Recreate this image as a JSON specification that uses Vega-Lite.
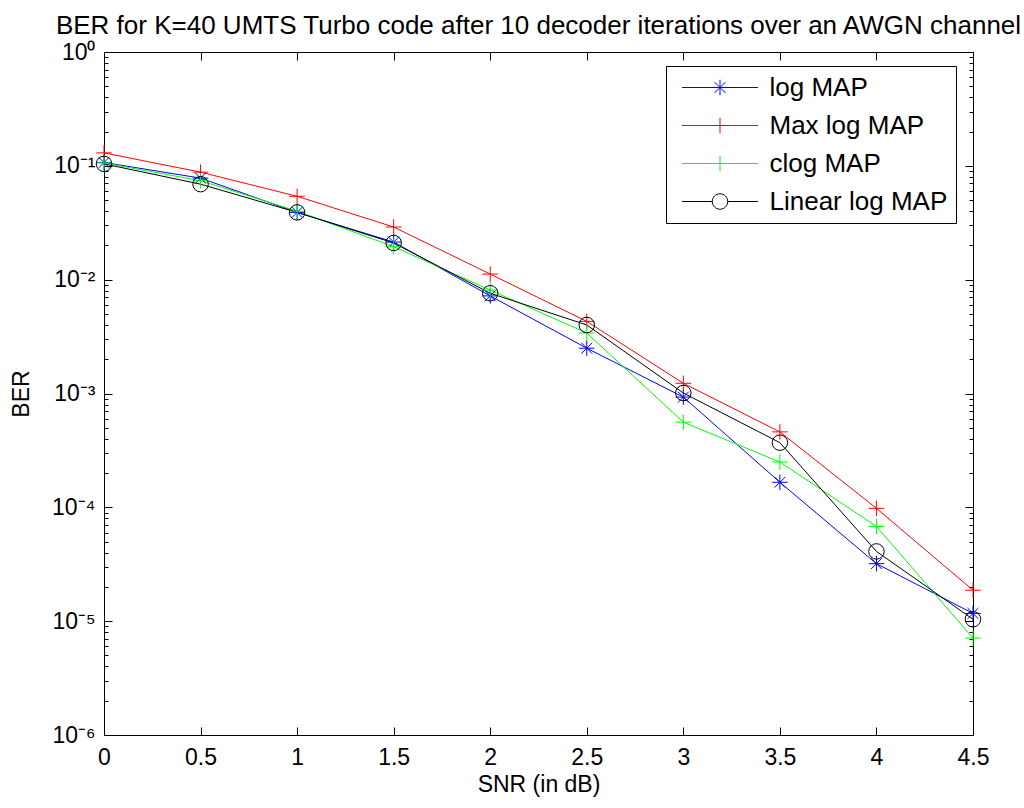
{
  "$schema": "https://vega.github.io/schema/vega-lite/v6.json",
  "width": 869,
  "height": 683,
  "autosize": {"type": "none"},
  "padding": {"left": 104, "top": 52, "right": 51, "bottom": 73},
  "background": "white",
  "config": {
    "view": {"stroke": "black", "strokeWidth": 1},
    "font": "Liberation Sans",
    "axis": {
      "grid": false,
      "domainColor": "black",
      "tickColor": "black",
      "labelColor": "black",
      "titleColor": "black",
      "labelFont": "Liberation Sans",
      "titleFont": "Liberation Sans",
      "labelFontSize": 23,
      "titleFontSize": 23,
      "titleFontWeight": "normal",
      "tickWidth": 1,
      "domainWidth": 1
    }
  },
  "title": {
    "text": "BER for K=40 UMTS Turbo code after 10 decoder iterations over an AWGN channel",
    "fontSize": 26,
    "fontWeight": "normal",
    "font": "Liberation Sans",
    "anchor": "middle",
    "offset": 2,
    "color": "black"
  },
  "data": {
    "values": [
      {"snr": 0, "ber": 0.107, "series": "log MAP"},
      {"snr": 0.5, "ber": 0.078, "series": "log MAP"},
      {"snr": 1, "ber": 0.039, "series": "log MAP"},
      {"snr": 1.5, "ber": 0.0214, "series": "log MAP"},
      {"snr": 2, "ber": 0.0072, "series": "log MAP"},
      {"snr": 2.5, "ber": 0.0025, "series": "log MAP"},
      {"snr": 3, "ber": 0.00093, "series": "log MAP"},
      {"snr": 3.5, "ber": 0.000166, "series": "log MAP"},
      {"snr": 4, "ber": 0.000032, "series": "log MAP"},
      {"snr": 4.5, "ber": 0.0000117, "series": "log MAP"},
      {"snr": 0, "ber": 0.13, "series": "Max log MAP"},
      {"snr": 0.5, "ber": 0.088, "series": "Max log MAP"},
      {"snr": 1, "ber": 0.054, "series": "Max log MAP"},
      {"snr": 1.5, "ber": 0.029, "series": "Max log MAP"},
      {"snr": 2, "ber": 0.0112, "series": "Max log MAP"},
      {"snr": 2.5, "ber": 0.0043, "series": "Max log MAP"},
      {"snr": 3, "ber": 0.00123, "series": "Max log MAP"},
      {"snr": 3.5, "ber": 0.00046, "series": "Max log MAP"},
      {"snr": 4, "ber": 0.000098, "series": "Max log MAP"},
      {"snr": 4.5, "ber": 0.0000187, "series": "Max log MAP"},
      {"snr": 0, "ber": 0.106, "series": "clog MAP"},
      {"snr": 0.5, "ber": 0.074, "series": "clog MAP"},
      {"snr": 1, "ber": 0.04, "series": "clog MAP"},
      {"snr": 1.5, "ber": 0.0195, "series": "clog MAP"},
      {"snr": 2, "ber": 0.0081, "series": "clog MAP"},
      {"snr": 2.5, "ber": 0.0034, "series": "clog MAP"},
      {"snr": 3, "ber": 0.00056, "series": "clog MAP"},
      {"snr": 3.5, "ber": 0.00025, "series": "clog MAP"},
      {"snr": 4, "ber": 0.000068, "series": "clog MAP"},
      {"snr": 4.5, "ber": 0.0000071, "series": "clog MAP"},
      {"snr": 0, "ber": 0.104, "series": "Linear log MAP"},
      {"snr": 0.5, "ber": 0.069, "series": "Linear log MAP"},
      {"snr": 1, "ber": 0.039, "series": "Linear log MAP"},
      {"snr": 1.5, "ber": 0.021, "series": "Linear log MAP"},
      {"snr": 2, "ber": 0.0076, "series": "Linear log MAP"},
      {"snr": 2.5, "ber": 0.004, "series": "Linear log MAP"},
      {"snr": 3, "ber": 0.00101, "series": "Linear log MAP"},
      {"snr": 3.5, "ber": 0.00037, "series": "Linear log MAP"},
      {"snr": 4, "ber": 0.000041, "series": "Linear log MAP"},
      {"snr": 4.5, "ber": 0.0000104, "series": "Linear log MAP"}
    ]
  },
  "layer": [
    {
      "mark": {"type": "line", "strokeWidth": 1},
      "encoding": {
        "x": {
          "field": "snr", "type": "quantitative",
          "scale": {"domain": [0, 4.5], "nice": false, "zero": false},
          "axis": {"orient": "bottom", "values": [0, 0.5, 1, 1.5, 2, 2.5, 3, 3.5, 4, 4.5], "format": "~g", "ticks": false, "labelPadding": 11, "labelFlush": false, "title": "SNR (in dB)", "titlePadding": 4}
        },
        "y": {
          "field": "ber", "type": "quantitative",
          "scale": {"type": "log", "domain": [0.000001, 1], "nice": false},
          "axis": {"orient": "left", "values": [0.000001, 0.00001, 0.0001, 0.001, 0.01, 0.1, 1], "ticks": false, "labelPadding": 9, "title": "BER", "titlePadding": 18,
            "labelExpr": "['10⁰','10⁻¹','10⁻²','10⁻³','10⁻⁴','10⁻⁵','10⁻⁶'][round(-log(datum.value)/LN10)]"}
        },
        "color": {"field": "series", "type": "nominal", "scale": {"domain": ["log MAP", "Max log MAP", "clog MAP", "Linear log MAP"], "range": ["#0000ff", "#ff0000", "#00ff00", "#000000"]}, "legend": null}
      }
    },
    {
      "mark": {"type": "point", "filled": false, "strokeWidth": 1, "size": 240, "opacity": 1},
      "encoding": {
        "x": {
          "field": "snr", "type": "quantitative",
          "axis": {"orient": "top", "offset": -683, "values": [0, 0.5, 1, 1.5, 2, 2.5, 3, 3.5, 4, 4.5], "tickSize": 8, "labels": false, "domain": false, "title": null}
        },
        "y": {
          "field": "ber", "type": "quantitative",
          "axis": {"orient": "right", "offset": -869, "values": [0.000001, 0.00001, 0.0001, 0.001, 0.01, 0.1, 1], "tickSize": 8, "labels": false, "domain": false, "title": null}
        },
        "color": {"field": "series", "type": "nominal", "scale": {"domain": ["log MAP", "Max log MAP", "clog MAP", "Linear log MAP"], "range": ["#0000ff", "#ff0000", "#00ff00", "#000000"]}, "legend": null},
        "shape": {
          "field": "series", "type": "nominal",
          "scale": {"domain": ["log MAP", "Max log MAP", "clog MAP", "Linear log MAP"], "range": ["M-1,0L1,0M0,-1L0,1M-0.7,-0.7L0.7,0.7M-0.7,0.7L0.7,-0.7", "M-1,0L1,0M0,-1L0,1", "M-1,0L1,0M0,-1L0,1", "circle"]},
          "legend": null
        }
      }
    },
    {
      "transform": [{"filter": "datum.snr < -1"}],
      "mark": {"type": "point", "filled": false, "strokeWidth": 1, "size": 240, "opacity": 1},
      "encoding": {
        "x": {"field": "snr", "type": "quantitative", "axis": null},
        "y": {"field": "ber", "type": "quantitative", "axis": null},
        "color": {"field": "series", "type": "nominal",
          "scale": {"domain": ["log MAP", "Max log MAP", "clog MAP", "Linear log MAP"], "range": ["#0000ff", "#ff0000", "#00ff00", "#000000"]},
          "legend": {
            "orient": "none", "legendX": 562, "legendY": 14, "title": null,
            "labelFont": "Liberation Sans", "labelFontSize": 26, "labelColor": "black", "labelLimit": 400,
            "strokeColor": "black", "fillColor": "white", "padding": 8.5, "rowPadding": 12,
            "symbolSize": 240, "symbolStrokeWidth": 1, "symbolOffset": 32.5, "labelOffset": 36.5
          }
        },
        "shape": {
          "field": "series", "type": "nominal",
          "scale": {"domain": ["log MAP", "Max log MAP", "clog MAP", "Linear log MAP"], "range": ["M-4.9,0L4.9,0M0,-1L0,1M-0.7,-0.7L0.7,0.7M-0.7,0.7L0.7,-0.7", "M-4.9,0L4.9,0M0,-1L0,1", "M-4.9,0L4.9,0M0,-1L0,1", "M-4.9,0L-1,0M1,0L4.9,0M-1,0A1,1 0 1,0 1,0A1,1 0 1,0 -1,0"]},
          "legend": {
            "orient": "none", "legendX": 562, "legendY": 14, "title": null,
            "labelFont": "Liberation Sans", "labelFontSize": 26, "labelColor": "black", "labelLimit": 400,
            "strokeColor": "black", "fillColor": "white", "padding": 8.5, "rowPadding": 12,
            "symbolSize": 240, "symbolStrokeWidth": 1, "symbolOffset": 32.5, "labelOffset": 36.5
          }
        }
      }
    },
    {
      "mark": {"type": "point", "opacity": 0},
      "encoding": {
        "x": {"field": "snr", "type": "quantitative",
          "axis": {"orient": "bottom", "offset": -683, "values": [0, 0.5, 1, 1.5, 2, 2.5, 3, 3.5, 4, 4.5], "tickSize": 8, "labels": false, "domain": false, "title": null}},
        "y": {
          "field": "ber", "type": "quantitative",
          "axis": {"orient": "right", "offset": -869, "values": [0.000002,0.000003,0.000004,0.000005,0.000006,0.000007,0.000008,0.000009,0.00002,0.00003,0.00004,0.00005,0.00006,0.00007,0.00008,0.00009,0.0002,0.0003,0.0004,0.0005,0.0006,0.0007,0.0008,0.0009,0.002,0.003,0.004,0.005,0.006,0.007,0.008,0.009,0.02,0.03,0.04,0.05,0.06,0.07,0.08,0.09,0.2,0.3,0.4,0.5,0.6,0.7,0.8,0.9], "tickSize": 4, "labels": false, "domain": false, "title": null}
        }
      }
    },
    {
      "mark": {"type": "point", "opacity": 0},
      "encoding": {
        "x": {"field": "snr", "type": "quantitative", "axis": null},
        "y": {
          "field": "ber", "type": "quantitative",
          "axis": {"orient": "left", "offset": -869, "values": [0.000001, 0.00001, 0.0001, 0.001, 0.01, 0.1, 1], "tickSize": 8, "labels": false, "domain": false, "title": null}
        }
      }
    },
    {
      "mark": {"type": "point", "opacity": 0},
      "encoding": {
        "x": {"field": "snr", "type": "quantitative", "axis": null},
        "y": {
          "field": "ber", "type": "quantitative",
          "axis": {"orient": "left", "offset": -869, "values": [0.000002,0.000003,0.000004,0.000005,0.000006,0.000007,0.000008,0.000009,0.00002,0.00003,0.00004,0.00005,0.00006,0.00007,0.00008,0.00009,0.0002,0.0003,0.0004,0.0005,0.0006,0.0007,0.0008,0.0009,0.002,0.003,0.004,0.005,0.006,0.007,0.008,0.009,0.02,0.03,0.04,0.05,0.06,0.07,0.08,0.09,0.2,0.3,0.4,0.5,0.6,0.7,0.8,0.9], "tickSize": 4, "labels": false, "domain": false, "title": null}
        }
      }
    }
  ],
  "resolve": {"scale": {"shape": "independent", "color": "independent"}, "axis": {"x": "independent", "y": "independent"}}
}
